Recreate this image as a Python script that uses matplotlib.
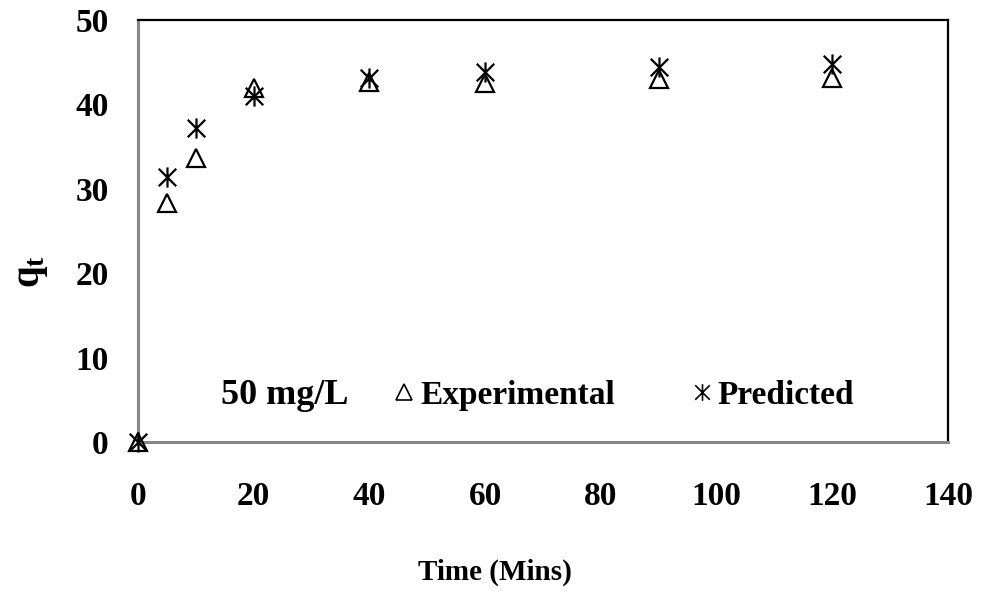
import matplotlib
matplotlib.use("Agg")
import matplotlib.pyplot as plt
from matplotlib.path import Path
from matplotlib.lines import Line2D

plt.rcParams['font.family'] = ['Liberation Serif', 'DejaVu Serif']
plt.rcParams['font.weight'] = 'bold'
plt.rcParams['mathtext.fontset'] = 'custom'
plt.rcParams['mathtext.rm'] = 'Liberation Serif:bold'
plt.rcParams['mathtext.it'] = 'Liberation Serif:bold'
plt.rcParams['mathtext.bf'] = 'Liberation Serif:bold'

# Adsorption kinetics at 50 mg/L
time_min = [0, 5, 10, 20, 40, 60, 90, 120]
q_experimental = [0.0, 28.3, 33.6, 42.0, 42.6, 42.5, 43.0, 43.1]
q_predicted = [0.0, 31.4, 37.2, 41.0, 43.1, 43.8, 44.4, 44.8]

x_ticks = [0, 20, 40, 60, 80, 100, 120, 140]
y_ticks = [0, 10, 20, 30, 40, 50]

# six-armed asterisk: an X plus a vertical stroke
star = Path(
    [(-1, -1), (1, 1), (-1, 1), (1, -1), (0, -1.15), (0, 1.15)],
    [Path.MOVETO, Path.LINETO, Path.MOVETO, Path.LINETO, Path.MOVETO, Path.LINETO],
)

fig = plt.figure(figsize=(9.81, 5.94), dpi=100)
ax = fig.add_axes([138 / 981, 152 / 594, 810 / 981, 422 / 594])

ax.plot(time_min, q_experimental, linestyle='none', marker='^', ms=13,
        mfc='none', mec='black', mew=1.6, clip_on=False, zorder=3)
ax.plot(time_min, q_predicted, linestyle='none', marker=star, ms=14.5,
        mfc='none', mec='black', mew=1.6, clip_on=False, zorder=4)

ax.set_xlim(0, 140)
ax.set_ylim(0, 50)
ax.set_xticks(x_ticks)
ax.set_yticks(y_ticks)
ax.tick_params(axis='both', length=0, labelsize=24)
ax.tick_params(axis='x', pad=28)
ax.tick_params(axis='y', pad=21)
for lab in ax.get_xticklabels() + ax.get_yticklabels():
    lab.set_fontweight('bold')

for side in ('left', 'bottom'):
    ax.spines[side].set_color('#868686')
    ax.spines[side].set_linewidth(2.2)
for side in ('top', 'right'):
    ax.spines[side].set_color('black')
    ax.spines[side].set_linewidth(1.6)

xl = ax.set_xlabel('Time (Mins)', fontsize=21, fontweight='bold')
xl.set_va('center')
ax.xaxis.set_label_coords(0.441, -0.308)
yl = ax.set_ylabel(r'$\mathbf{q_t}$', fontsize=28)
yl.set_va('center')
ax.yaxis.set_label_coords(-0.131, 0.403)

ax.text(0.103, 0.111, '50 mg/L', transform=ax.transAxes, fontsize=26,
        fontweight='bold', ha='left', va='center')

handles = [
    Line2D([], [], linestyle='none', marker='^', ms=11, mfc='none', mec='black', mew=1.2),
    Line2D([], [], linestyle='none', marker=star, ms=12, mfc='none', mec='black', mew=1.2),
]
ax.legend(handles, ['Experimental', 'Predicted'], ncol=2, frameon=False,
          loc='center left', bbox_to_anchor=(0.30, 0.111),
          prop={'weight': 'bold', 'size': 24}, handlelength=0.6,
          handletextpad=0.18, columnspacing=2.3, borderaxespad=0)

fig.savefig('out.png', dpi=100)
